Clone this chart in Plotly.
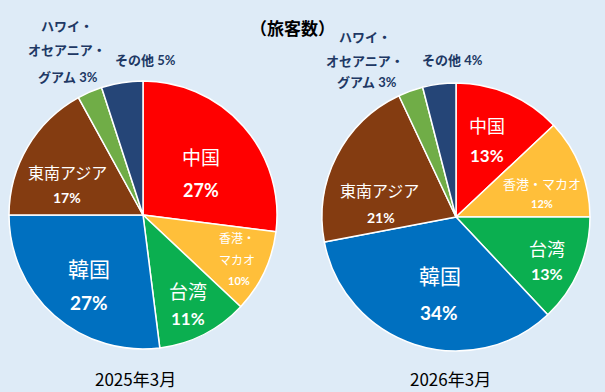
import plotly.graph_objects as go

categories = ["中国", "香港・マカオ", "台湾", "韓国", "東南アジア", "ハワイ・オセアニア・グアム", "その他"]
values_2025 = [27, 10, 11, 27, 17, 3, 5]
values_2026 = [13, 12, 13, 34, 21, 3, 4]
period_labels = ["2025年3月", "2026年3月"]
title_text = "（旅客数）"

colors = ["#FF0000", "#FFBF3A", "#0BAF50", "#0070C0", "#843C11", "#70AD47", "#254577"]

W, H = 605, 392
fig = go.Figure()

def dom(cx, cy, r):
    return dict(x=[(cx - r) / W, (cx + r) / W], y=[1 - (cy + r) / H, 1 - (cy - r) / H])

for vals, (cx, cy) in [(values_2025, (143, 215)), (values_2026, (456, 217))]:
    fig.add_trace(go.Pie(
        labels=categories, values=vals, sort=False, direction="clockwise", rotation=0,
        marker=dict(colors=colors, line=dict(color="white", width=1.5)),
        textinfo="none", hoverinfo="skip", showlegend=False,
        domain=dom(cx, cy, 134),
    ))

JP = "Noto Sans CJK JP"
NUM = "Lato, Noto Sans CJK JP"

def ann(text, x, y, size, color="white", bold=False, family=JP):
    t = f"<b>{text}</b>" if bold else text
    fig.add_annotation(text=t, x=x / W, y=1 - y / H, xref="paper", yref="paper",
                       xanchor="center", yanchor="middle", showarrow=False,
                       font=dict(size=size, color=color, family=family))

def pct(v):
    return f"{v}%"

navy = "#203864"
# left pie labels
v = values_2025
ann(categories[0], 201, 156, 19)
ann(pct(v[0]), 201, 190, 18, bold=True, family=NUM)
ann("香港・", 237, 237, 12)
ann("マカオ", 237, 259, 12)
ann(pct(v[1]), 239, 280, 11, bold=True, family=NUM)
ann(categories[2], 188, 290, 19)
ann(pct(v[2]), 188, 318, 17, bold=True, family=NUM)
ann(categories[3], 89, 268, 21)
ann(pct(v[3]), 89, 302, 19, bold=True, family=NUM)
ann(categories[4], 67, 172, 16)
ann(pct(v[4]), 67, 197, 14, bold=True, family=NUM)
ann("ハワイ・", 67, 25, 13, color=navy, bold=True)
ann("オセアニア・", 67, 50, 13, color=navy, bold=True)
ann("グアム " + pct(v[5]), 68, 77, 13, color=navy, bold=True, family=NUM)
ann(categories[6] + " " + pct(v[6]), 145, 60, 13, color=navy, bold=True, family=NUM)

# right pie labels
v = values_2026
ann(categories[0], 487, 125, 18)
ann(pct(v[0]), 487, 155, 17, bold=True, family=NUM)
ann(categories[1], 542, 183, 13)
ann(pct(v[1]), 542, 203, 11, bold=True, family=NUM)
ann(categories[2], 547, 248, 18)
ann(pct(v[2]), 547, 273, 16, bold=True, family=NUM)
ann(categories[3], 440, 275, 21)
ann(pct(v[3]), 439, 312, 19, bold=True, family=NUM)
ann(categories[4], 379, 190, 16)
ann(pct(v[4]), 381, 217, 14, bold=True, family=NUM)
ann("ハワイ・", 365, 37, 13, color=navy, bold=True)
ann("オセアニア・", 365, 60, 13, color=navy, bold=True)
ann("グアム " + pct(v[5]), 367, 82, 13, color=navy, bold=True, family=NUM)
ann(categories[6] + " " + pct(v[6]), 452, 60, 13, color=navy, bold=True, family=NUM)

ann(title_text, 292, 28, 17, color="black", bold=True)
ann(period_labels[0], 135, 378, 17, color="black")
ann(period_labels[1], 450, 378, 17, color="black")

fig.update_layout(width=W, height=H, margin=dict(l=0, r=0, t=0, b=0),
                  paper_bgcolor="#DEEBF7", plot_bgcolor="#DEEBF7")
fig.write_html("out.html", config={"displayModeBar": False})

with open("out.html", encoding="utf-8") as f:
    html = f.read()
html = html.replace("<head>", "<head><style>html,body{margin:0;padding:0;background:#DEEBF7;overflow:hidden}</style>", 1)
with open("out.html", "w", encoding="utf-8") as f:
    f.write(html)
